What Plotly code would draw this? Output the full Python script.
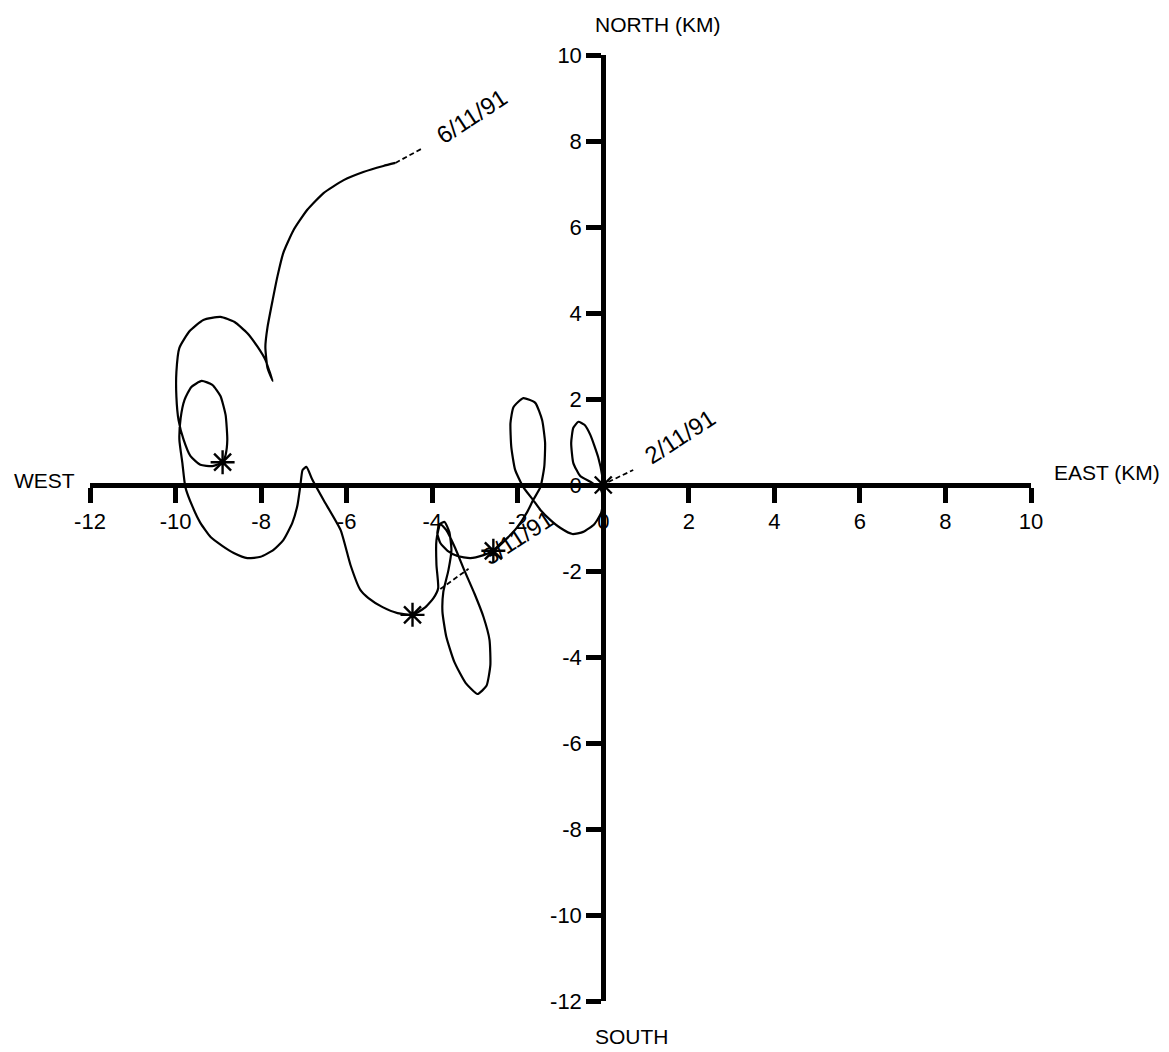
import plotly.graph_objects as go

# ---- data (km east / km north) ----
track_east = [
    0.00, -0.02, -0.12, -0.30, -0.44, -0.58, -0.70, -0.75, -0.70, -0.54, -0.26, -0.05, 0.00, -0.05,
    -0.21, -0.47, -0.72, -1.00, -1.24, -1.47, -1.64, -1.87, -2.06, -2.15, -2.17, -2.10, -1.87, -1.59,
    -1.43, -1.36, -1.38, -1.47, -1.64, -1.78, -2.01, -2.24, -2.57,
    -2.80, -3.11, -3.41, -3.64, -3.81, -3.88, -3.83, -3.71, -3.60, -3.55, -3.62, -3.74, -3.76, -3.67,
    -3.48, -3.22, -2.94, -2.73, -2.64, -2.66, -2.80, -3.01, -3.25, -3.46, -3.67, -3.81, -3.90, -3.90,
    -3.86, -3.97, -4.18, -4.46,
    -4.81, -5.16, -5.49, -5.68, -5.91, -6.14, -6.54, -6.80, -6.94, -7.03, -7.08, -7.15, -7.27, -7.48,
    -7.71, -8.01, -8.32, -8.64, -8.90, -9.18, -9.42, -9.60, -9.77, -9.84, -9.91, -9.88, -9.79, -9.63,
    -9.39, -9.14, -8.95, -8.83, -8.79, -8.83, -8.90,
    -9.14, -9.42, -9.65, -9.81, -9.93, -9.98, -9.98, -9.91, -9.67, -9.35, -8.95, -8.62, -8.32, -8.08,
    -7.90, -7.80, -7.73, -7.85, -7.90, -7.85, -7.73, -7.62, -7.48, -7.24, -6.92, -6.54, -6.07, -5.61,
    -5.14, -4.86,
]
track_north = [
    0.00, 0.19, 0.65, 1.16, 1.40, 1.47, 1.33, 0.98, 0.51, 0.21, 0.05, -0.12, -0.35, -0.65,
    -0.91, -1.09, -1.14, -1.00, -0.81, -0.58, -0.35, -0.05, 0.35, 0.88, 1.44, 1.81, 2.02, 1.91,
    1.51, 0.98, 0.42, -0.05, -0.35, -0.63, -0.98, -1.23, -1.53,
    -1.63, -1.70, -1.65, -1.53, -1.35, -1.12, -0.91, -0.86, -1.09, -1.51, -1.98, -2.49, -2.95, -3.53,
    -4.12, -4.60, -4.86, -4.67, -4.19, -3.60, -3.07, -2.53, -1.98, -1.47, -1.05, -0.91, -1.28, -1.86,
    -2.40, -2.63, -2.86, -3.02,
    -2.98, -2.84, -2.63, -2.44, -1.86, -1.05, -0.35, 0.12, 0.42, 0.35, 0.00, -0.47, -0.88, -1.28,
    -1.51, -1.67, -1.70, -1.58, -1.42, -1.21, -0.88, -0.51, -0.05, 0.51, 1.05, 1.56, 1.98, 2.28,
    2.42, 2.33, 2.07, 1.63, 1.05, 0.70, 0.53,
    0.44, 0.47, 0.67, 1.05, 1.51, 2.05, 2.63, 3.19, 3.58, 3.84, 3.91, 3.79, 3.53, 3.21,
    2.91, 2.63, 2.42, 2.72, 3.21, 3.67, 4.30, 4.84, 5.40, 5.93, 6.40, 6.79, 7.09, 7.28,
    7.42, 7.49,
]

# daily marks (asterisks)
day_east = [0.00, -2.57, -4.46, -8.90]
day_north = [0.00, -1.53, -3.02, 0.53]

# date labels and their dashed leaders
date_labels = ["2/11/91", "3/11/91", "6/11/91"]
label_east = [1.80, -1.99, -3.08]
label_north = [1.12, -1.23, 8.56]
leader_east = [[0.12, 0.70], [-3.81, -3.15], [-4.86, -4.21]]
leader_north = [[0.07, 0.35], [-2.42, -1.95], [7.49, 7.84]]

tick_vals = [-12, -10, -8, -6, -4, -2, 0, 2, 4, 6, 8, 10]
tick_text = ["-12", "-10", "-8", "-6", "-4", "-2", "0", "2", "4", "6", "8", "10"]

axis_titles = ["WEST", "EAST (KM)", "NORTH (KM)", "SOUTH"]

FONT = "Liberation Sans, Arial, Helvetica, sans-serif"

fig = go.Figure()

fig.add_trace(go.Scatter(
    x=track_east, y=track_north, mode="lines",
    line=dict(color="black", width=2.2, shape="spline", smoothing=0.5),
    showlegend=False, hoverinfo="skip",
))

for lx, ly in zip(leader_east, leader_north):
    fig.add_trace(go.Scatter(
        x=lx, y=ly, mode="lines",
        line=dict(color="black", width=1.8, dash="5px,3px"),
        showlegend=False, hoverinfo="skip",
    ))

fig.add_trace(go.Scatter(
    x=day_east, y=day_north, mode="markers",
    marker=dict(symbol="asterisk-open", size=20, color="black",
                line=dict(color="black", width=2.4)),
    showlegend=False, hoverinfo="skip",
))

for txt, ex, ny in zip(date_labels, label_east, label_north):
    fig.add_annotation(x=ex, y=ny, xref="x", yref="y", text=txt, showarrow=False,
                       textangle=-33, xanchor="center", yanchor="middle",
                       font=dict(family=FONT, size=24, color="black"))

title_pos = [(-0.048, 0.550), (1.081, 0.559), (0.604, 1.032), (0.576, -0.038)]
for txt, (px, py) in zip(axis_titles, title_pos):
    fig.add_annotation(x=px, y=py, xref="paper", yref="paper", text=txt, showarrow=False,
                       xanchor="center", yanchor="middle",
                       font=dict(family=FONT, size=21, color="black"))

common = dict(
    showgrid=False, zeroline=False, showline=True, linecolor="black", linewidth=5,
    ticks="outside", ticklen=15, tickwidth=5, tickcolor="black",
    tickmode="array", tickvals=tick_vals, ticktext=tick_text,
    tickfont=dict(family=FONT, size=22, color="black"),
    autorange=False, range=[-12, 10], fixedrange=True,
)

fig.update_layout(
    width=1169, height=1052,
    margin=dict(l=82, r=146, t=47, b=59),
    paper_bgcolor="white", plot_bgcolor="white",
    xaxis=dict(anchor="free", position=12 / 22, side="bottom", **common),
    yaxis=dict(anchor="free", position=12 / 22, side="left", **common),
    showlegend=False,
)

fig.write_html("out.html")
